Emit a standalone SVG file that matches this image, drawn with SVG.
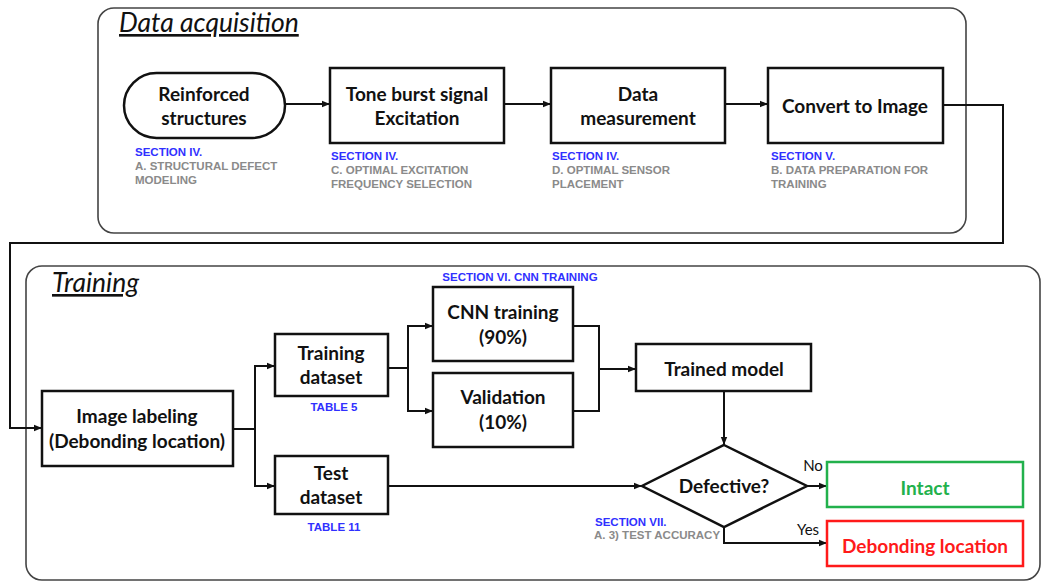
<svg xmlns="http://www.w3.org/2000/svg" width="1042" height="582" viewBox="0 0 1042 582">
<defs>
<style>
.frame{fill:none;stroke:#444;stroke-width:1.6}
.box{fill:#fff;stroke:#111;stroke-width:2.5}
.lbl{font-family:Lato,"Open Sans","Liberation Sans",sans-serif;font-weight:bold;font-size:19px;fill:#111;text-anchor:middle}
.ttl{font-family:Lato,"Open Sans","Liberation Sans",sans-serif;font-style:italic;font-size:26.5px;fill:#111;text-decoration:underline}
.sec{font-family:"Liberation Sans",Arial,sans-serif;font-weight:bold;font-size:11.5px;fill:#3030ff}
.gry{font-family:"Liberation Sans",Arial,sans-serif;font-weight:bold;font-size:11.5px;fill:#8a8a8a}
.yn{font-family:Lato,"Open Sans","Liberation Sans",sans-serif;font-size:15px;fill:#111}
.ln{fill:none;stroke:#111;stroke-width:2}
</style>
<marker id="ah" viewBox="0 0 10 10" refX="10" refY="5" markerWidth="4" markerHeight="4" orient="auto" markerUnits="strokeWidth">
<path d="M0,1 L10,5 L0,9 z" fill="#111"/>
</marker>
</defs>
<rect width="1042" height="582" fill="#fff"/>

<g id="frame-data">
<rect class="frame" x="98" y="8" width="868" height="225" rx="16"/>
<text class="ttl" x="119" y="32">Data acquisition</text>
</g>
<g id="frame-training">
<rect class="frame" x="26" y="266" width="1014" height="314" rx="16"/>
<text class="ttl" x="52" y="292">Training</text>
</g>

<g id="connectors">
<line class="ln" x1="286" y1="104" x2="330" y2="104" marker-end="url(#ah)"/>
<line class="ln" x1="504" y1="104" x2="551" y2="104" marker-end="url(#ah)"/>
<line class="ln" x1="725" y1="104" x2="768" y2="104" marker-end="url(#ah)"/>
<polyline class="ln" points="943,105 1003,105 1003,243 10,243 10,428 42,428" marker-end="url(#ah)"/>
<polyline class="ln" points="233,429 255,429"/>
<polyline class="ln" points="275,366 255,366 255,486 275,486"/>
<line class="ln" x1="255" y1="366" x2="275" y2="366" marker-end="url(#ah)"/>
<line class="ln" x1="255" y1="486" x2="275" y2="486" marker-end="url(#ah)"/>
<polyline class="ln" points="388,368 408,368"/>
<polyline class="ln" points="433,326 408,326 408,411 433,411"/>
<line class="ln" x1="408" y1="326" x2="433" y2="326" marker-end="url(#ah)"/>
<line class="ln" x1="408" y1="411" x2="433" y2="411" marker-end="url(#ah)"/>
<polyline class="ln" points="573,326 599,326 599,411 573,411"/>
<line class="ln" x1="599" y1="369" x2="636" y2="369" marker-end="url(#ah)"/>
<line class="ln" x1="724" y1="391" x2="724" y2="445" marker-end="url(#ah)"/>
<line class="ln" x1="388" y1="486" x2="642" y2="486" marker-end="url(#ah)"/>
<line class="ln" x1="807" y1="486" x2="827" y2="486" marker-end="url(#ah)"/>
<polyline class="ln" points="724,527 724,543 827,543" marker-end="url(#ah)"/>
<text class="yn" x="813" y="471" text-anchor="middle">No</text>
<text class="yn" x="808" y="535" text-anchor="middle">Yes</text>
</g>

<g id="n-reinforced">
<rect class="box" x="124" y="73" width="161" height="65" rx="32.5"/>
<text class="lbl" x="204" y="101">Reinforced</text>
<text class="lbl" x="204" y="125">structures</text>
<text class="sec" x="135" y="156">SECTION IV.</text>
<text class="gry" x="135" y="170">A. STRUCTURAL DEFECT</text>
<text class="gry" x="135" y="184">MODELING</text>
</g>

<g id="n-tone">
<rect class="box" x="330" y="68" width="174" height="75"/>
<text class="lbl" x="417" y="101">Tone burst signal</text>
<text class="lbl" x="417" y="125">Excitation</text>
<text class="sec" x="331" y="160">SECTION IV.</text>
<text class="gry" x="331" y="174">C. OPTIMAL EXCITATION</text>
<text class="gry" x="331" y="188">FREQUENCY SELECTION</text>
</g>

<g id="n-measure">
<rect class="box" x="551" y="68" width="174" height="75"/>
<text class="lbl" x="638" y="101">Data</text>
<text class="lbl" x="638" y="125">measurement</text>
<text class="sec" x="552" y="160">SECTION IV.</text>
<text class="gry" x="552" y="174">D. OPTIMAL SENSOR</text>
<text class="gry" x="552" y="188">PLACEMENT</text>
</g>

<g id="n-convert">
<rect class="box" x="768" y="68" width="175" height="75"/>
<text class="lbl" x="855" y="113">Convert to Image</text>
<text class="sec" x="771" y="160">SECTION V.</text>
<text class="gry" x="771" y="174">B. DATA PREPARATION FOR</text>
<text class="gry" x="771" y="188">TRAINING</text>
</g>

<g id="n-labeling">
<rect class="box" x="42" y="391" width="191" height="75"/>
<text class="lbl" x="137" y="423">Image labeling</text>
<text class="lbl" x="137" y="448">(Debonding location)</text>
</g>

<g id="n-trainset">
<rect class="box" x="275" y="334" width="113" height="62"/>
<text class="lbl" x="331" y="360">Training</text>
<text class="lbl" x="331" y="384">dataset</text>
<text class="sec" x="334" y="411" text-anchor="middle">TABLE 5</text>
</g>

<g id="n-testset">
<rect class="box" x="275" y="456" width="113" height="58"/>
<text class="lbl" x="331" y="480">Test</text>
<text class="lbl" x="331" y="504">dataset</text>
<text class="sec" x="334" y="531" text-anchor="middle">TABLE 11</text>
</g>

<g id="n-cnn">
<rect class="box" x="433" y="287" width="140" height="74"/>
<text class="lbl" x="503" y="319">CNN training</text>
<text class="lbl" x="503" y="344">(90%)</text>
<text class="sec" x="520" y="281" text-anchor="middle">SECTION VI. CNN TRAINING</text>
</g>

<g id="n-valid">
<rect class="box" x="433" y="373" width="140" height="74"/>
<text class="lbl" x="503" y="404">Validation</text>
<text class="lbl" x="503" y="429">(10%)</text>
</g>

<g id="n-model">
<rect class="box" x="636" y="344" width="175" height="47"/>
<text class="lbl" x="724" y="376">Trained model</text>
</g>

<g id="n-defective">
<polygon class="box" points="724,445 807,486 724,527 642,486"/>
<text class="lbl" x="724" y="493">Defective?</text>
<text class="sec" x="595" y="526">SECTION VII.</text>
<text class="gry" x="594" y="539">A. 3) TEST ACCURACY</text>
</g>

<g id="n-intact">
<rect x="827" y="462" width="196" height="45" fill="#fff" stroke="#22b14c" stroke-width="2.5"/>
<text class="lbl" x="925" y="495" style="fill:#22b14c">Intact</text>
</g>

<g id="n-debond">
<rect x="827" y="521" width="196" height="45" fill="#fff" stroke="#ff1a1a" stroke-width="2.5"/>
<text class="lbl" x="925" y="553" style="fill:#ff1a1a">Debonding location</text>
</g>
</svg>
